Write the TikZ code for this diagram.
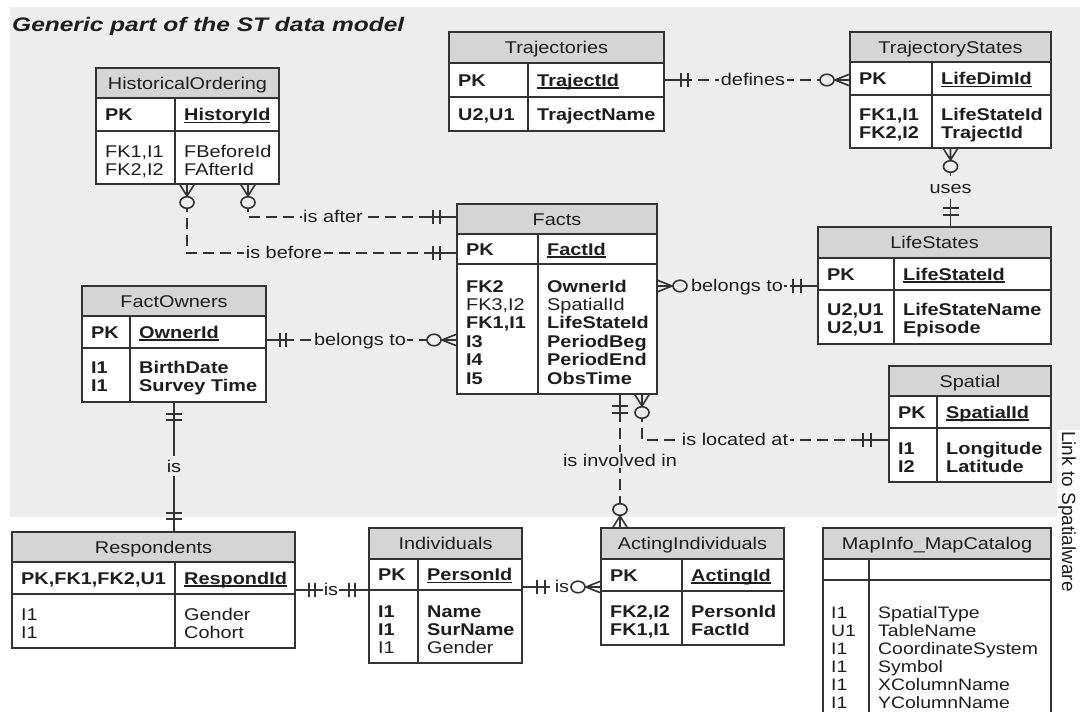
\documentclass[tikz,border=0pt]{standalone}
\usepackage{fontspec}
\setmainfont[FakeStretch=1.17]{Liberation Sans}
\newfontfamily\titlefont[FakeStretch=1.25]{Liberation Sans}
\newfontfamily\plainfont{Liberation Sans}
\usetikzlibrary{calc,fit}
\definecolor{bggray}{HTML}{EDEDED}
\definecolor{hdrgray}{HTML}{D5D5D5}
\definecolor{linecol}{HTML}{333333}
\definecolor{txtcol}{HTML}{1E1E1E}

\newcommand\ulf[1]{\setbox0=\hbox{#1}\rlap{\rule[-2.6pt]{\wd0}{1.3pt}}\box0}

% name, left, top, right, bottom, header bottom, pk bottom, divider, title
\newcommand\ertab[9]{%
 \node[tblnode, fit={(#2,#3) (#4,#5)}] (#1) {};
 \fill[hdrgray] (#2,#3) rectangle (#4,#6);
 \draw[tbl] (#2,#6) -- (#4,#6) (#2,#7) -- (#4,#7) (#8,#6) -- (#8,#5);
 \draw[tbl] (#2,#3) rectangle (#4,#5);
 \node[txt, anchor=base] (#1-title) at ({(#2+#4)/2},{(#3+#6)/2+6}) {#9};
}
% name, x, first baseline, spacing, list
\newcommand\trow[5]{\foreach \rowtxt [count=\rowi] in {#5}{\node[txt] (#1-\rowi) at (#2,{#3+(\rowi-1)*#4}) {\rowtxt};}}
% coord, angle, d1, d2, half
\newcommand\onemk[5]{\begin{scope}[shift={(#1)},rotate=#2]
 \draw[mk] (0,0) -- ({#4+3},0) (#3,-#5) -- (#3,#5) (#4,-#5) -- (#4,#5);
\end{scope}}
% coord, angle, crow length, spread, circle centre, r along, r across, fill
\newcommand\manymk[8]{\begin{scope}[shift={(#1)},rotate=#2]
 \draw[mk] (0,-#4) -- (#3,0) -- (0,#4) (0,0) -- (#3,0);
 \draw[mk, fill=#8] (#5,0) ellipse [x radius=#6, y radius=#7];
\end{scope}}

\begin{document}
\begin{tikzpicture}[x=1pt,y=-1pt,
 every node/.style={text=txtcol, font=\fontsize{17}{20}\selectfont},
 txt/.style={anchor=base west, inner sep=0pt},
 tblnode/.style={inner sep=0pt, outer sep=0pt, fill=white},
 tbl/.style={draw=linecol, line width=1.4pt},
 mk/.style={draw=linecol, line width=1.6pt},
 dconn/.style={draw=linecol, line width=1.6pt, dash pattern=on 11pt off 6pt},
 sconn/.style={draw=linecol, line width=1.8pt},
 lbl/.style={anchor=base, fill=bggray, inner xsep=1.5pt, inner ysep=2pt}]

\path[use as bounding box, fill=white] (0,0) rectangle (1080,712);
\fill[bggray] (10,7) -- (1080,7) -- (1080,430) -- (1057,430) -- (1057,517) -- (10,517) -- cycle;

\node[anchor=base west, inner sep=0pt, font={\titlefont\fontsize{19.6}{22}\bfseries\itshape\selectfont}] (title) at (12,31.5) {Generic part of the ST data model};
\node[anchor=base west, inner sep=0pt, rotate=-90, font={\plainfont\fontsize{19}{22}\selectfont}] (link) at (1062,431) {Link to Spatialware};

% ---- tables
\ertab{hist}{96}{68}{279}{184}{98}{131}{175}{HistoricalOrdering}
\trow{hist-pk}{105}{120.5}{18}{\textbf{PK}}
\trow{hist-pkn}{184}{120.5}{18}{\ulf{\textbf{HistoryId}}}
\trow{hist-k}{105}{157}{18}{{FK1,I1},{FK2,I2}}
\trow{hist-f}{184}{157}{18}{FBeforeId,FAfterId}

\ertab{traj}{449}{32}{664}{131}{63}{97}{528}{Trajectories}
\trow{traj-pk}{458}{86}{18.4}{\textbf{PK}}
\trow{traj-pkn}{537}{86}{18.4}{\ulf{\textbf{TrajectId}}}
\trow{traj-k}{458}{120}{18.4}{\textbf{U2,U1}}
\trow{traj-f}{537}{120}{18.4}{\textbf{TrajectName}}

\ertab{tstates}{850}{32}{1051}{148}{62}{95}{932}{TrajectoryStates}
\trow{tstates-pk}{859}{84.5}{18.4}{\textbf{PK}}
\trow{tstates-pkn}{941}{84.5}{18.4}{\ulf{\textbf{LifeDimId}}}
\trow{tstates-k}{859}{120}{18.4}{\textbf{FK1,I1},\textbf{FK2,I2}}
\trow{tstates-f}{941}{120}{18.4}{\textbf{LifeStateId},\textbf{TrajectId}}

\ertab{facts}{457}{204}{657}{394}{234}{264}{538}{Facts}
\trow{facts-pk}{466}{255}{18.4}{\textbf{PK}}
\trow{facts-pkn}{547}{255}{18.4}{\ulf{\textbf{FactId}}}
\trow{facts-k}{466}{292}{18.4}{\textbf{FK2},{FK3,I2},\textbf{FK1,I1},\textbf{I3},\textbf{I4},\textbf{I5}}
\trow{facts-f}{547}{292}{18.4}{\textbf{OwnerId},SpatialId,\textbf{LifeStateId},\textbf{PeriodBeg},\textbf{PeriodEnd},\textbf{ObsTime}}

\ertab{lifest}{818}{227}{1051}{344}{258}{290}{894}{LifeStates}
\trow{lifest-pk}{827}{280}{18.4}{\textbf{PK}}
\trow{lifest-pkn}{903}{280}{18.4}{\ulf{\textbf{LifeStateId}}}
\trow{lifest-k}{827}{315}{18.4}{\textbf{U2,U1},\textbf{U2,U1}}
\trow{lifest-f}{903}{315}{18.4}{\textbf{LifeStateName},\textbf{Episode}}

\ertab{spatial}{889}{366}{1051}{482}{396}{428}{937}{Spatial}
\trow{spatial-pk}{898}{418}{18.4}{\textbf{PK}}
\trow{spatial-pkn}{946}{418}{18.4}{\ulf{\textbf{SpatialId}}}
\trow{spatial-k}{898}{454}{18.4}{\textbf{I1},\textbf{I2}}
\trow{spatial-f}{946}{454}{18.4}{\textbf{Longitude},\textbf{Latitude}}

\ertab{owners}{82}{286}{266}{402}{316}{348}{130}{FactOwners}
\trow{owners-pk}{91}{338}{18.4}{\textbf{PK}}
\trow{owners-pkn}{139}{338}{18.4}{\ulf{\textbf{OwnerId}}}
\trow{owners-k}{91}{373}{18.4}{\textbf{I1},\textbf{I1}}
\trow{owners-f}{139}{373}{18.4}{\textbf{BirthDate},\textbf{Survey Time}}

\ertab{resp}{12}{532}{295}{648}{562}{594}{175}{Respondents}
\trow{resp-pk}{21}{584}{18.4}{\textbf{PK,FK1,FK2,U1}}
\trow{resp-pkn}{184}{584}{18.4}{\ulf{\textbf{RespondId}}}
\trow{resp-k}{21}{620}{18.4}{I1,I1}
\trow{resp-f}{184}{620}{18.4}{Gender,Cohort}

\ertab{indiv}{369}{528}{522}{663}{559}{590}{418}{Individuals}
\trow{indiv-pk}{378}{580.5}{18.4}{\textbf{PK}}
\trow{indiv-pkn}{427}{580.5}{18.4}{\ulf{\textbf{PersonId}}}
\trow{indiv-k}{378}{617}{18.4}{\textbf{I1},\textbf{I1},I1}
\trow{indiv-f}{427}{617}{18.4}{\textbf{Name},\textbf{SurName},Gender}

\ertab{acting}{601}{528}{784}{645}{559}{591}{682}{ActingIndividuals}
\trow{acting-pk}{610}{581}{18.4}{\textbf{PK}}
\trow{acting-pkn}{691}{581}{18.4}{\ulf{\textbf{ActingId}}}
\trow{acting-k}{610}{617}{18.4}{\textbf{FK2,I2},\textbf{FK1,I1}}
\trow{acting-f}{691}{617}{18.4}{\textbf{PersonId},\textbf{FactId}}

\ertab{mapinfo}{823}{528}{1051}{716}{559}{580}{869}{MapInfo\_MapCatalog}
\begin{scope}[every node/.append style={font=\fontsize{16.6}{19}\selectfont}]
\trow{mapinfo-k}{831}{618}{18}{I1,U1,I1,I1,I1,I1}
\trow{mapinfo-f}{878}{618}{18}{SpatialType,TableName,CoordinateSystem,Symbol,XColumnName,YColumnName}
\end{scope}

% ---- connector end points
\coordinate (defA) at ($(traj.north east)+(0,48)$);
\coordinate (defB) at (tstates.west |- defA);
\coordinate (usesA) at (tstates.south);
\coordinate (usesB) at (usesA |- lifest.north);
\coordinate (aftA) at ($(hist.south west)+(152,0)$);
\coordinate (aftB) at ($(facts.north west)+(0,13)$);
\coordinate (befA) at ($(hist.south west)+(91,0)$);
\coordinate (befB) at ($(facts.north west)+(0,49)$);
\coordinate (ownA) at ($(owners.north east)+(0,54)$);
\coordinate (ownB) at (facts.west |- ownA);
\coordinate (flA) at ($(facts.north east)+(0,82)$);
\coordinate (flB) at (lifest.west |- flA);
\coordinate (locA) at ($(facts.south west)+(185,0)$);
\coordinate (locB) at ($(spatial.north west)+(0,74)$);
\coordinate (invA) at ($(facts.south west)+(163,0)$);
\coordinate (invB) at (invA |- acting.north);
\coordinate (orA) at ($(owners.south west)+(92,0)$);
\coordinate (orB) at (orA |- resp.north);
\coordinate (riA) at ($(resp.north east)+(0,58)$);
\coordinate (riB) at (indiv.west |- riA);
\coordinate (iaA) at ($(indiv.north east)+(0,59)$);
\coordinate (iaB) at (acting.west |- iaA);

% ---- connectors
\draw[dconn] (defA) -- (defB);
\draw[dconn] (usesA) -- (usesB);
\draw[dconn] (aftA) |- (aftB);
\draw[dconn] (befA) |- (befB);
\draw[dconn] (ownA) -- (ownB);
\draw[dconn] (flA) -- (flB);
\draw[dconn] (locA) |- (locB);
\draw[dconn] (invA) -- (invB);
\draw[sconn] (orA) -- (orB);
\draw[sconn] (riA) -- (riB);
\draw[dconn] (iaA) -- (iaB);

% ---- cardinality marks
\onemk{defA}{0}{17}{24}{7}
\manymk{defB}{180}{15}{6}{23}{7}{5.8}{bggray}
\manymk{usesA}{270}{12}{7.5}{18.5}{5.8}{7}{bggray}
\onemk{usesB}{90}{12}{19}{8}
\manymk{aftA}{270}{12}{7.5}{18.5}{5.8}{7}{bggray}
\onemk{aftB}{180}{17}{24}{7}
\manymk{befA}{270}{12}{7.5}{18.5}{5.8}{7}{bggray}
\onemk{befB}{180}{17}{24}{7}
\onemk{ownA}{0}{14}{20}{7}
\manymk{ownB}{180}{15}{6}{23}{7}{5.8}{bggray}
\manymk{flA}{0}{15}{6}{23}{7}{5.8}{bggray}
\onemk{flB}{180}{17}{25}{7}
\manymk{locA}{270}{12}{7.5}{18.5}{5.8}{7}{bggray}
\onemk{locB}{180}{18}{26}{7}
\onemk{invA}{270}{12}{19}{8}
\manymk{invB}{90}{12}{7.5}{18.5}{5.8}{7}{bggray}
\onemk{orA}{270}{12}{18}{8}
\onemk{orB}{90}{13}{19}{8}
\onemk{riA}{0}{14}{20}{7}
\onemk{riB}{180}{14}{20}{7}
\onemk{iaA}{0}{15}{23}{7}
\manymk{iaB}{180}{15}{6}{23}{7}{5.8}{white}

% ---- labels
\node[lbl] (l-def) at (753,85) {defines};
\node[lbl] (l-uses) at (950.5,193) {uses};
\node[lbl] (l-aft) at (333,222) {is after};
\node[lbl] (l-bef) at (284,258) {is before};
\node[lbl] (l-own) at (360,345) {belongs to};
\node[lbl] (l-fl) at (737,291) {belongs to};
\node[lbl] (l-loc) at (735,445) {is located at};
\node[lbl] (l-inv) at (620,466) {is involved in};
\node[lbl, inner ysep=4pt] (l-or) at (174,472) {is};
\node[lbl, fill=white, inner xsep=1pt] (l-ri) at (331,595) {is};
\node[lbl, fill=white, inner xsep=1pt] (l-ia) at (562,592) {is};
\end{tikzpicture}
\end{document}
